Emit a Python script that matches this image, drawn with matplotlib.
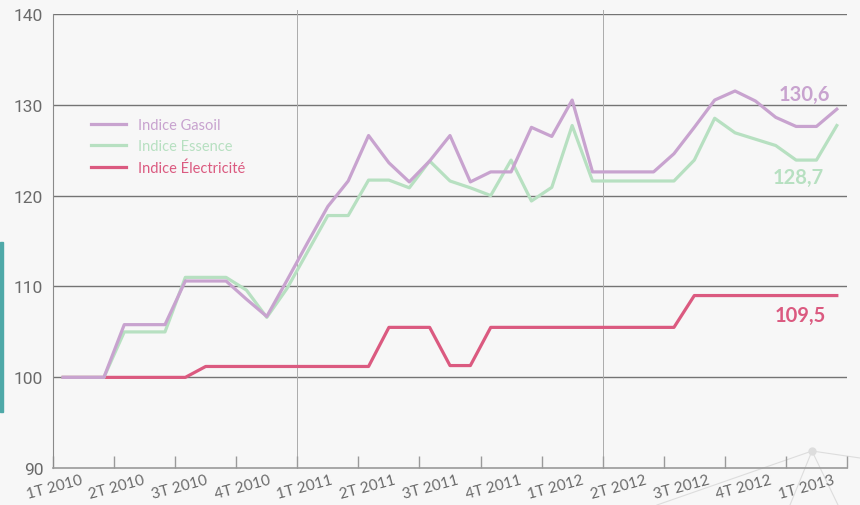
import numpy as np
import matplotlib
matplotlib.use("Agg")
import matplotlib.pyplot as plt
from matplotlib.lines import Line2D
from matplotlib.patches import Rectangle

plt.rcParams['font.family'] = ['Lato', 'DejaVu Sans']

# monthly values, jan 2010 -> mar 2013
gasoil = [100, 100, 100, 105.8, 105.8, 105.8, 110.6, 110.6, 110.6, 108.6,
          106.7, 110.7, 114.8, 118.8, 121.6, 126.6, 123.6, 121.5, 123.8, 126.6,
          121.5, 122.6, 122.6, 127.5, 126.5, 130.5, 122.6, 122.6, 122.6, 122.6,
          124.6, 127.5, 130.5, 131.5, 130.4, 128.6, 127.6, 127.6, 129.5]
essence = [100, 100, 100, 105.0, 105.0, 105.0, 111.0, 111.0, 111.0, 109.6,
           106.6, 109.8, 113.8, 117.8, 117.8, 121.7, 121.7, 120.85, 123.8, 121.6,
           120.85, 120.0, 123.9, 119.4, 120.9, 127.7, 121.6, 121.6, 121.6, 121.6,
           121.6, 123.9, 128.5, 126.9, 126.2, 125.5, 123.9, 123.9, 127.7]
electricite = [100] * 7 + [101.2] * 9 + [105.5] * 3 + [101.3] * 2 + [105.5] * 10 + [109.0] * 8

quarters = ["1T 2010", "2T 2010", "3T 2010", "4T 2010",
            "1T 2011", "2T 2011", "3T 2011", "4T 2011",
            "1T 2012", "2T 2012", "3T 2012", "4T 2012", "1T 2013"]
end_labels = ["130,6", "128,7", "109,5"]

c_gas = "#C8A3CF"
c_ess = "#B7E0C1"
c_ele = "#DB5A80"
grey_txt = "#6A6A6A"

months = np.arange(len(gasoil))

fig = plt.figure(figsize=(8.6, 5.06), dpi=100)
fig.patch.set_facecolor("#F7F7F7")
ax = fig.add_axes([53 / 860, 36.7 / 506, 794 / 860, 454.6 / 506])
ax.set_facecolor("none")

# faint decoration bottom right + teal bar on the left
node = (812 / 860, 1 - 452 / 506)
for ex, ey in [(657, 506), (790, 506), (838, 506), (860, 459)]:
    fig.add_artist(Line2D([node[0], ex / 860], [node[1], 1 - ey / 506],
                          color="#DDDDDD", lw=0.8, zorder=0))
fig.add_artist(Line2D([node[0]], [node[1]], marker="o", ms=5, color="#DDDDDD", zorder=0))
fig.add_artist(Rectangle((0, 1 - 413 / 506), 3 / 860, 170 / 506,
                         transform=fig.transFigure, color="#4FA9A8", zorder=0))

for v in [100, 110, 120, 130, 140]:
    ax.axhline(v, color="#747474", lw=1.0, zorder=1)
for v in [11.5, 26.5]:
    ax.plot([v, v], [90, 140.4], color="#ABABAB", lw=0.7, zorder=1, clip_on=False)

ax.plot(months, electricite, color=c_ele, lw=2.3, label="Indice Électricité", zorder=3,
        solid_joinstyle="round")
ax.plot(months, essence, color=c_ess, lw=2.3, label="Indice Essence", zorder=4,
        solid_joinstyle="round")
ax.plot(months, gasoil, color=c_gas, lw=2.3, label="Indice Gasoil", zorder=5,
        solid_joinstyle="round")

ax.set_xlim(-0.5, 38.5)
ax.set_ylim(90, 140)

for s in ["top", "right"]:
    ax.spines[s].set_visible(False)
ax.spines["left"].set_color("#8A8A8A")
ax.spines["bottom"].set_color("#9A9A9A")
ax.spines["bottom"].set_linewidth(1.2)

ax.set_xticks(np.arange(14) * 3 - 0.5)
ax.set_xticklabels([])
ax.tick_params(axis="x", direction="in", length=9, width=1, color="#9A9A9A")
ax.set_yticks([90, 100, 110, 120, 130, 140])
ax.set_yticklabels(["90", "100", "110", "120", "130", "140"], fontfamily="Roboto")
ax.tick_params(axis="y", length=0, pad=7, labelsize=12.5, labelcolor=grey_txt)

# quarter labels, slightly tilted
for k, q in enumerate(quarters):
    ax.text(-0.44 + 3.08 * k, -0.04, q, transform=ax.get_xaxis_transform(),
            rotation=15, ha="center", va="center", fontsize=11, color=grey_txt)

handles, labels = ax.get_legend_handles_labels()
leg = ax.legend(handles[::-1], labels[::-1], loc="upper left",
                bbox_to_anchor=(91 / 860, 1 - 119 / 506), bbox_transform=fig.transFigure,
                frameon=False, fontsize=10.5, handlelength=2.4, handletextpad=0.85,
                labelspacing=0.5, borderpad=0, borderaxespad=0, labelcolor="linecolor")

ax.text(36.4, 131.2, end_labels[0], color=c_gas, fontsize=14.5, fontweight="bold",
        ha="center", va="center")
ax.text(36.1, 122.0, end_labels[1], color=c_ess, fontsize=14.5, fontweight="bold",
        ha="center", va="center")
ax.text(36.2, 106.9, end_labels[2], color=c_ele, fontsize=14.5, fontweight="bold",
        ha="center", va="center")

fig.savefig("out.png", dpi=100, facecolor=fig.get_facecolor())
